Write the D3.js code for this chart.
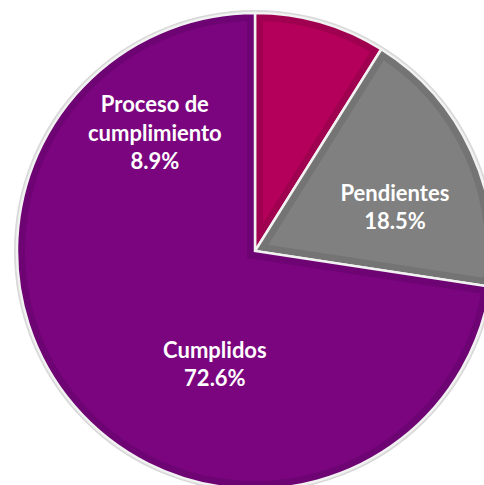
<!DOCTYPE html>
<html><head><meta charset="utf-8">
<script src="https://cdn.jsdelivr.net/npm/d3@7"></script>
<style>body{margin:0;background:#fff}svg{display:block}</style>
</head><body>
<script>
const categories = ["Proceso de cumplimiento", "Pendientes", "Cumplidos"];
const values = [8.9, 18.5, 72.6];
const labels = ["8.9%", "18.5%", "72.6%"];
const colors = ["#B4005A", "#808080", "#7A057F"];
const bevel = ["#A00050", "#747474", "#6E0473"];
// label text as placed in the original chart
const labelLines = [["Proceso de", "cumplimiento", "8.9%"], ["Pendientes", "18.5%"], ["Cumplidos", "72.6%"]];

const W = 484, H = 485, cx = 255, cy = 251, R = 238;
const svg = d3.select("body").append("svg").attr("width", W).attr("height", H);
const g = svg.append("g").attr("transform", `translate(${cx},${cy})`);

const pie = d3.pie().sort(null).value(d => d)(values);
const arc = d3.arc().innerRadius(0).outerRadius(R);

g.append("circle").attr("r", R + 1.5).attr("fill", "none").attr("stroke", "#d9d9d9").attr("stroke-width", 3);

const defs = svg.append("defs");
pie.forEach((p, i) => {
  defs.append("clipPath").attr("id", "c" + i).append("path").attr("d", arc(p));
});
const s = g.selectAll("g.s").data(pie).enter().append("g");
s.append("path").attr("d", arc).attr("fill", (d, i) => colors[i]);
s.append("path").attr("d", arc).attr("fill", "none").attr("stroke", (d, i) => bevel[i])
  .attr("stroke-width", 16).attr("clip-path", (d, i) => `url(#c${i})`);
s.append("path").attr("d", arc).attr("fill", "none").attr("stroke", "#f2f2f2")
  .attr("stroke-width", 2.5).attr("stroke-linejoin", "miter");

const lx = d3.scaleLinear().domain([0, 1]).range([0, W]);
const ly = d3.scaleLinear().domain([0, 1]).range([0, H]);
const labelPos = [[0.320, 0.216], [0.816, 0.398], [0.444, 0.722]];
labelLines.forEach((lines, i) => {
  const t = svg.append("text").attr("text-anchor", "middle")
    .attr("font-family", "Lato, 'Open Sans', sans-serif").attr("font-weight", "bold")
    .attr("font-size", 22).attr("fill", "#fff");
  lines.forEach((ln, j) => {
    t.append("tspan").attr("x", lx(labelPos[i][0])).attr("y", ly(labelPos[i][1]) + j * 28.5)
      .attr("dy", "0.35em").text(ln);
  });
});
</script>
</body></html>
